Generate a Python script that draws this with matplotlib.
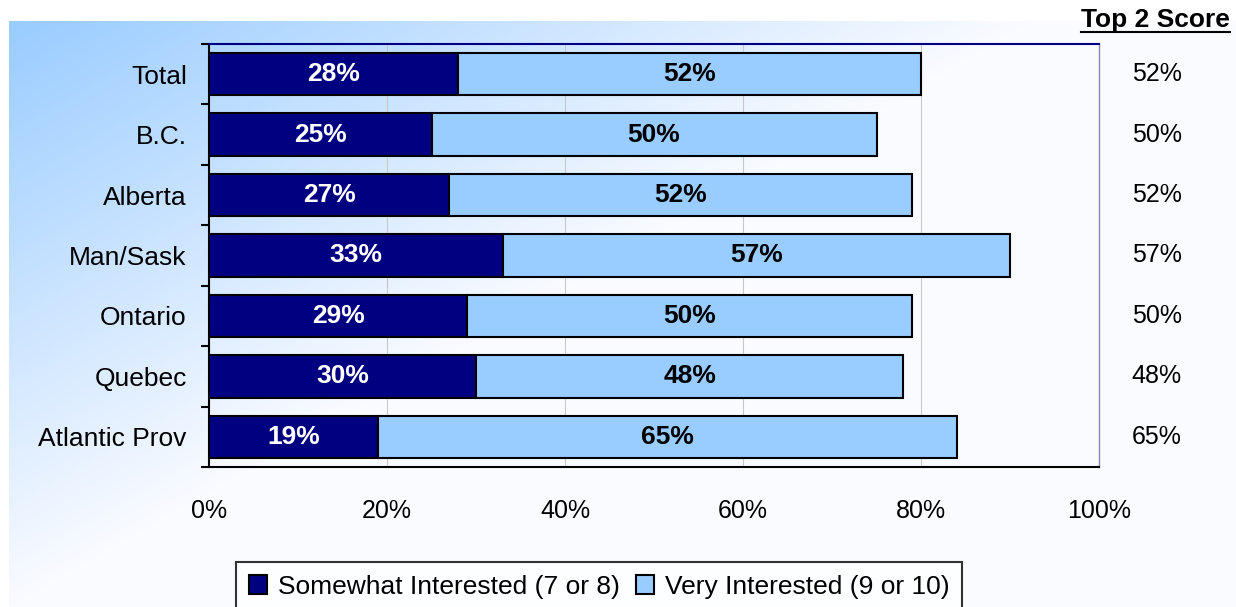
import numpy as np
import matplotlib.pyplot as plt

plt.rcParams['font.family'] = ['Liberation Sans', 'DejaVu Sans']

# Region labels, top to bottom
regions = ['Total', 'B.C.', 'Alberta', 'Man/Sask', 'Ontario', 'Quebec', 'Atlantic Prov']
somewhat = [28, 25, 27, 33, 29, 30, 19]
very = [52, 50, 52, 57, 50, 48, 65]
top2 = [52, 50, 52, 57, 50, 48, 65]

dark = '#000080'
light = '#99CCFF'
fs = 18

W, H = 1236, 607
fig = plt.figure(figsize=(W / 100, H / 100), dpi=100)

# diagonal blue-to-white backdrop, drawn pixel for pixel
bw, bh = W - 9, H - 21
gx, gy = np.meshgrid(np.linspace(0, 1, bw), np.linspace(0, 1, bh))
t = np.clip(gx * 1.2 + gy * 1.0, 0, 1)
c0 = np.array([153, 204, 255]) / 255
c1 = np.array([250, 251, 255]) / 255
img = c0[None, None, :] * (1 - t[..., None]) + c1[None, None, :] * t[..., None]
fig.figimage(img, xo=9, yo=0, origin='upper', zorder=-10)

ax = fig.add_axes([209 / W, 1 - 467 / H, (1099 - 209) / W, (467 - 44) / H])
ax.patch.set_alpha(0)

y = np.arange(len(regions))
ax.barh(y, somewhat, height=0.7, color=dark, edgecolor='black', linewidth=1.5,
        label='Somewhat Interested (7 or 8)', zorder=3)
ax.barh(y, very, left=somewhat, height=0.7, color=light, edgecolor='black', linewidth=1.5,
        label='Very Interested (9 or 10)', zorder=3)

for i in range(len(regions)):
    ax.text(somewhat[i] / 2, y[i], f'{somewhat[i]}%', ha='center', va='center',
            color='white', fontsize=19, fontweight='bold', zorder=4)
    ax.text(somewhat[i] + very[i] / 2, y[i], f'{very[i]}%', ha='center', va='center',
            color='black', fontsize=19, fontweight='bold', zorder=4)
    ax.text(1.065, y[i], f'{top2[i]}%', transform=ax.get_yaxis_transform(),
            ha='center', va='center', fontsize=fs)

# underlined column header
hdr = fig.text(1230 / W, 1 - 20 / H, 'Top 2 Score', ha='right', va='center',
               fontsize=19, fontweight='bold')
fig.canvas.draw()
bb = hdr.get_window_extent()
fig.add_artist(plt.Line2D([bb.x0 / W, bb.x1 / W], [1 - 32 / H, 1 - 32 / H],
                          color='black', linewidth=1.5))

ax.set_xlim(0, 100)
ax.set_ylim(len(regions) - 0.5, -0.5)
ax.set_xticks(np.arange(0, 101, 20))
ax.set_xticklabels([f'{v}%' for v in range(0, 101, 20)], fontsize=fs)
ax.set_yticks(y)
ax.set_yticklabels(regions, fontsize=19)
ax.tick_params(axis='y', length=0, pad=16)
ax.tick_params(axis='x', length=0, pad=23)

# boundary ticks between categories
ax.set_yticks(np.arange(-0.5, len(regions)), minor=True)
ax.set_xticks(np.arange(0, 101, 20), minor=True)
ax.tick_params(axis='y', which='minor', length=6, width=1.5, direction='out')
ax.tick_params(axis='x', which='minor', length=6, width=1.5, direction='out')

ax.grid(axis='x', color='#c8c8c8', linewidth=0.8, zorder=0)
ax.spines['left'].set_linewidth(1.5)
ax.spines['bottom'].set_linewidth(1.5)
ax.spines['top'].set_color(dark)
ax.spines['top'].set_linewidth(1.5)
ax.spines['right'].set_color('#8888aa')
ax.spines['right'].set_linestyle((0, (2, 1)))
ax.spines['right'].set_linewidth(1)

leg = fig.legend(loc='lower center', bbox_to_anchor=(599 / W, -0.03), ncol=2,
                 fontsize=19, frameon=True, fancybox=False, edgecolor='black',
                 handlelength=0.7, handleheight=0.7, handletextpad=0.4,
                 columnspacing=0.6, borderpad=0.5)
leg.get_frame().set_linewidth(1.5)
leg.get_frame().set_facecolor('white')

fig.savefig('out.png', dpi=100)
